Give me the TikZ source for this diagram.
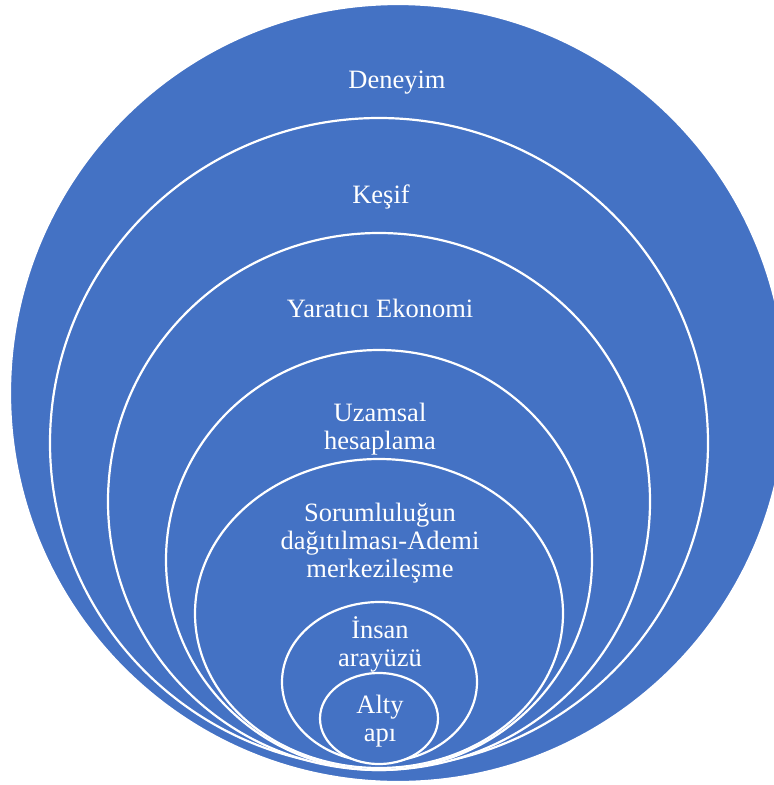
\documentclass[tikz,border=0pt]{standalone}
\usepackage{fontspec}
\setmainfont{Liberation Serif}
\usepackage{tikz}
\definecolor{bb}{RGB}{68, 114, 196}
\usetikzlibrary{shapes.geometric}
\def\lw{2.2pt}
\newcommand{\ring}[5]{\node[ellipse,draw=white,line width=\lw,fill=bb,inner sep=0pt,minimum width=#3pt,minimum height=#4pt] (#5) at (#1,#2) {};}
\tikzset{lbl/.style={color=white,align=center,anchor=base,inner sep=0pt,font=\fontsize{26.5}{28}\selectfont}}

\begin{document}
\begin{tikzpicture}[x=1pt,y=-1pt]
\clip (0,0) rectangle (774,785);
\ring{398}{393}{776}{778}{deneyim}
\ring{379}{443}{658}{650}{kesif}
\ring{379}{501.5}{542}{537}{ekonomi}
\ring{379}{560}{426}{420}{uzamsal}
\ring{379}{613.5}{368}{309}{sorumluluk}
\ring{379.5}{682}{195}{160}{insan}
\ring{379}{718.5}{118}{91}{alty}

% base = last line
\node[lbl] (l1) at (397,88) {Deneyim};
\node[lbl] (l2) at (381,203) {Keşif};
\node[lbl] (l3) at (380,317) {Yaratıcı Ekonomi};
\node[lbl] (l4) at (380,449) {Uzamsal\\hesaplama};
\node[lbl] (l5) at (380,577) {Sorumluluğun\\dağıtılması-Ademi\\merkezileşme};
\node[lbl] (l6) at (380,666) {İnsan\\arayüzü};
\node[lbl] (l7) at (380,741) {Alty\\apı};
\end{tikzpicture}
\end{document}
